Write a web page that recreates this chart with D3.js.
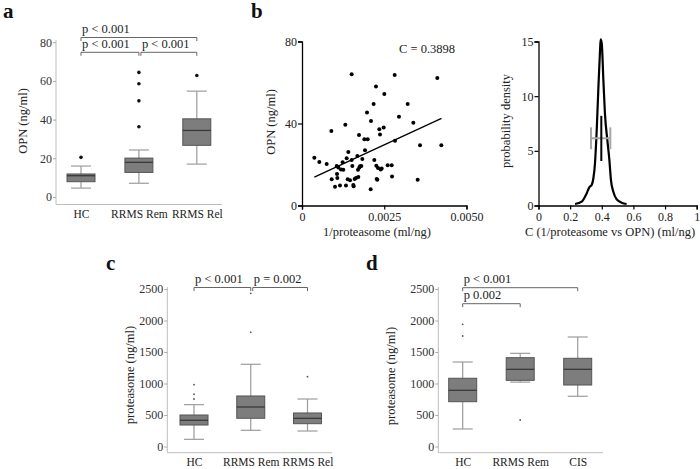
<!DOCTYPE html>
<html><head><meta charset="utf-8">
<script src="https://cdn.jsdelivr.net/npm/d3@7"></script>
<style>body{margin:0;background:#fff}svg{display:block;font-family:"Liberation Serif","Times New Roman",Times,serif}</style>
</head><body><svg id="c" width="700" height="469"></svg>
<script>
// ---------- DATA ----------
// Panel a: OPN (ng/ml)
const groupsA = ["HC", "RRMS Rem", "RRMS Rel"];
const lowA  = [4.6, 7.1, 17.0];
const q1A   = [7.9, 12.7, 26.7];
const medA  = [11.0, 17.9, 34.4];
const q3A   = [11.9, 20.1, 40.4];
const highA = [16.0, 24.3, 54.7];
const outA  = [[20.5], [36.3, 49.7, 58.5, 64.4], [62.8]];
const yTicksA = [0, 20, 40, 60, 80];
const brFromA = [0, 0, 1], brToA = [2, 1, 2], brRowA = [0, 1, 1];
const brTextA = ["p < 0.001", "p < 0.001", "p < 0.001"];

// Panel b (left): scatter OPN vs 1/proteasome
const scatX = [0.000375,0.000527,0.00075,0.000892,0.000902,0.001003,0.001054,0.001064,0.001074,0.001104,
  0.001155,0.001185,0.001236,0.001256,0.001317,0.001337,0.001358,0.001388,0.001408,0.001459,
  0.00151,0.00151,0.00153,0.00156,0.00157,0.0016,0.001641,0.001682,0.001702,0.001712,
  0.001733,0.001743,0.001763,0.001803,0.001834,0.001895,0.001915,0.001976,0.001996,0.002087,
  0.002097,0.002178,0.002198,0.002249,0.002259,0.00227,0.00229,0.00231,0.00235,0.002371,
  0.002391,0.002422,0.002482,0.002502,0.002604,0.002726,0.002736,0.002817,0.002827,0.002948,
  0.003212,0.003384,0.003516,0.003587,0.004113,0.004235];
const scatY = [23.3,21.2,20.2,36.3,12.8,9.2,19.3,15.4,13.4,18.5,
  9.8,17.6,21.1,17.5,39.4,9.8,23.0,12.8,26.1,12.3,
  64.0,22.2,19.3,10.0,9.4,12.9,13.4,24.1,17.5,13.9,
  34.4,18.5,19.1,19.3,22.7,32.3,26.9,45.4,32.3,7.9,
  41.2,49.5,22.2,58.0,19.4,12.9,12.6,18.3,37.2,34.6,
  17.6,18.1,38.1,54.4,19.6,19.6,14.2,63.7,31.6,43.3,
  49.5,40.4,12.6,29.4,62.2,29.4];
const fitX = [0.000375, 0.00424];
const fitY = [13.8, 42.5];
const scatXTicks = [0, 0.0025, 0.005], scatXLabels = ["0", "0.0025", "0.0050"];
const scatYTicks = [0, 40, 80];
const corrText = "C = 0.3898";

// Panel b (right): probability density of C
const densX = [0.231,0.273,0.305,0.321,0.336,0.347,0.357,0.368,0.378,0.389,0.393,0.40,0.41,0.42,0.435,0.448,0.458,0.473,0.494,0.526,0.557];
const densY = [0.14,0.35,1.12,1.66,1.88,2.49,3.86,6.9,10.57,14.2,15.2,14.8,11.5,8.4,6.0,4.16,2.33,1.26,0.57,0.26,0.14];
const ciLo = 0.332, ciHi = 0.454, ciLevel = 6.15, ciCap = 1.0;
const cMean = 0.397, cBarLo = 4.07, cBarHi = 8.2;
const densXTicks = [0, 0.2, 0.4, 0.6, 0.8, 1], densXLabels = ["0", "0.2", "0.4", "0.6", "0.8", "1"];
const densYTicks = [0, 5, 10, 15];

// Panel c: proteasome (ng/ml)
const groupsC = ["HC", "RRMS Rem", "RRMS Rel"];
const lowC  = [114, 257, 246];
const q1C   = [341, 448, 362];
const medC  = [416, 627, 447];
const q3C   = [500, 802, 532];
const highC = [664, 1305, 754];
const outC  = [[754, 829, 981], [1813, 2432], [1108]];
const brFromC = [0, 1], brToC = [1, 2], brRowC = [0, 0];
const brTextC = ["p < 0.001", "p = 0.002"];

// Panel d: proteasome (ng/ml)
const groupsD = ["HC", "RRMS Rem", "CIS"];
const lowD  = [278, 1022, 797];
const q1D   = [711, 1050, 976];
const medD  = [892, 1225, 1225];
const q3D   = [1083, 1410, 1400];
const highD = [1341, 1479, 1738];
const outD  = [[1754, 1940], [421], []];
const brFromD = [0, 0], brToD = [2, 1], brRowD = [0, 1];
const brTextD = ["p < 0.001", "p 0.002"];
const yTicksCD = [0, 500, 1000, 1500, 2000, 2500];

// ---------- DRAWING ----------
const svg = d3.select("#c");
const FONT = '"Liberation Serif","Times New Roman",Times,serif';

function styleAxis(sel, color, tickColor, size) {
  sel.attr("font-family", FONT).attr("font-size", size || 12);
  sel.selectAll("text").attr("fill", color);
  sel.selectAll(".tick line").attr("stroke", tickColor);
}

function boxPanel(o) {
  const g = svg.append("g");
  const y = d3.scaleLinear().domain(o.yDomain).range(o.yRange);
  const x = d3.scalePoint().domain(o.groups).range(o.xRange);
  const axCol = "#bdbdbd";
  g.append("line").attr("x1", o.ax).attr("x2", o.ax).attr("y1", o.axTop).attr("y2", o.ay).attr("stroke", axCol);
  g.append("line").attr("x1", o.ax).attr("x2", o.axRight).attr("y1", o.ay).attr("y2", o.ay).attr("stroke", axCol);
  const ya = g.append("g").attr("transform", `translate(${o.ax},0)`)
    .call(d3.axisLeft(y).tickValues(o.ticks).tickSize(3).tickPadding(1).tickFormat(d3.format("d")));
  ya.select(".domain").remove();
  styleAxis(ya, "#333", "#aaa");
  const xa = g.append("g").attr("transform", `translate(0,${o.ay})`)
    .call(d3.axisBottom(x).tickSize(0).tickPadding(5));
  xa.select(".domain").remove();
  styleAxis(xa, "#222", "#aaa", 11.5);
  // y title
  g.append("text").attr("transform", `translate(${o.titleX},${o.titleY}) rotate(-90)`)
    .attr("text-anchor", "middle").attr("font-family", FONT).attr("font-size", 12.5).attr("fill", "#222").text(o.title);
  const bw = 28, cw = 20;
  o.groups.forEach((gr, i) => {
    const cx = x(gr);
    const wc = "#9c9c9c";
    g.append("line").attr("x1", cx).attr("x2", cx).attr("y1", y(o.low[i])).attr("y2", y(o.q1[i])).attr("stroke", wc).attr("stroke-width", 1.2);
    g.append("line").attr("x1", cx).attr("x2", cx).attr("y1", y(o.q3[i])).attr("y2", y(o.high[i])).attr("stroke", wc).attr("stroke-width", 1.2);
    g.append("line").attr("x1", cx - cw / 2).attr("x2", cx + cw / 2).attr("y1", y(o.low[i])).attr("y2", y(o.low[i])).attr("stroke", wc).attr("stroke-width", 1.2);
    g.append("line").attr("x1", cx - cw / 2).attr("x2", cx + cw / 2).attr("y1", y(o.high[i])).attr("y2", y(o.high[i])).attr("stroke", wc).attr("stroke-width", 1.2);
    g.append("rect").attr("x", cx - bw / 2).attr("width", bw).attr("y", y(o.q3[i])).attr("height", y(o.q1[i]) - y(o.q3[i]))
      .attr("fill", "#7d7d7d").attr("stroke", "#555").attr("stroke-width", 1);
    g.append("line").attr("x1", cx - bw / 2).attr("x2", cx + bw / 2).attr("y1", y(o.med[i])).attr("y2", y(o.med[i])).attr("stroke", "#3a3a3a").attr("stroke-width", 1.3);
    g.selectAll(null).data(o.out[i]).enter().append("circle")
      .attr("cx", cx).attr("cy", d => y(d)).attr("r", o.outR).attr("fill", o.outCol);
  });
  // brackets
  o.brFrom.forEach((f, k) => {
    const x1 = x(o.groups[f]), x2 = x(o.groups[o.brTo[k]]);
    const by = o.brRows[o.brRow[k]];
    const off1 = k > 0 && o.brFrom[k] > 0 ? 2 : 0;
    g.append("path").attr("d", `M${x1 + off1},${by + 3.5}V${by}H${x2}V${by + 3.5}`)
      .attr("fill", "none").attr("stroke", "#666").attr("stroke-width", 1);
    g.append("text").attr("x", x1 + 1 + off1).attr("y", by - 4.3).attr("font-family", FONT).attr("font-size", 12.5)
      .attr("fill", "#222").text(o.brText[k]);
  });
}

boxPanel({groups: groupsA, low: lowA, q1: q1A, med: medA, q3: q3A, high: highA, out: outA,
  yDomain: [0, 80], yRange: [197, 42.2], xRange: [81, 196.8], ticks: yTicksA,
  ax: 56, ay: 204.5, axTop: 40, axRight: 222, title: "OPN (ng/ml)", titleX: 27, titleY: 121,
  outR: 1.8, outCol: "#111",
  brFrom: brFromA, brTo: brToA, brRow: brRowA, brText: brTextA, brRows: [37.5, 52.3]});

boxPanel({groups: groupsC, low: lowC, q1: q1C, med: medC, q3: q3C, high: highC, out: outC,
  yDomain: [0, 2500], yRange: [446.5, 289], xRange: [194, 307.5], ticks: yTicksCD,
  ax: 167.3, ay: 452.7, axTop: 287, axRight: 332, title: "proteasome (ng/ml)", titleX: 133.5, titleY: 375,
  outR: 0.9, outCol: "#555",
  brFrom: brFromC, brTo: brToC, brRow: brRowC, brText: brTextC, brRows: [287.5]});

boxPanel({groups: groupsD, low: lowD, q1: q1D, med: medD, q3: q3D, high: highD, out: outD,
  yDomain: [0, 2500], yRange: [446.5, 289], xRange: [462.7, 577.7], ticks: yTicksCD,
  ax: 438.3, ay: 452.7, axTop: 287, axRight: 603, title: "proteasome (ng/ml)", titleX: 395, titleY: 376,
  outR: 0.9, outCol: "#555",
  brFrom: brFromD, brTo: brToD, brRow: brRowD, brText: brTextD, brRows: [287.7, 303.7]});

// ---- panel b scatter ----
{
  const g = svg.append("g");
  const x = d3.scaleLinear().domain([0, 0.005]).range([302, 466.5]);
  const y = d3.scaleLinear().domain([0, 80]).range([205.5, 41.5]);
  const xa = g.append("g").attr("transform", "translate(0,205.5)")
    .call(d3.axisBottom(x).tickValues(scatXTicks).tickFormat((d, i) => scatXLabels[i]).tickSize(4).tickPadding(2.5));
  const ya = g.append("g").attr("transform", "translate(302,0)")
    .call(d3.axisLeft(y).tickValues(scatYTicks).tickSize(4).tickPadding(1));
  [xa, ya].forEach(a => { styleAxis(a, "#222", "#000"); a.select(".domain").attr("stroke", "#000").attr("stroke-width", 1.3); a.selectAll(".tick line").attr("stroke-width", 1.2); });
  g.selectAll(null).data(scatX).enter().append("circle")
    .attr("cx", d => x(d)).attr("cy", (d, i) => y(scatY[i])).attr("r", 2).attr("fill", "#000");
  g.append("path").datum(fitX.map((d, i) => [d, fitY[i]]))
    .attr("d", d3.line().x(d => x(d[0])).y(d => y(d[1]))).attr("stroke", "#000").attr("stroke-width", 1.3).attr("fill", "none");
  g.append("text").attr("x", 399).attr("y", 53).attr("font-family", FONT).attr("font-size", 12.5).attr("fill", "#222").text(corrText);
  g.append("text").attr("x", 377).attr("y", 236).attr("text-anchor", "middle").attr("font-family", FONT).attr("font-size", 12.5).attr("fill", "#222").text("1/proteasome (ml/ng)");
  g.append("text").attr("transform", "translate(275,122) rotate(-90)").attr("text-anchor", "middle").attr("font-family", FONT).attr("font-size", 12.5).attr("fill", "#222").text("OPN (ng/ml)");
}

// ---- panel b density ----
{
  const g = svg.append("g");
  const x = d3.scaleLinear().domain([0, 1]).range([538.5, 696.7]);
  const y = d3.scaleLinear().domain([0, 15]).range([205.5, 41.5]);
  const xa = g.append("g").attr("transform", "translate(0,205.5)")
    .call(d3.axisBottom(x).tickValues(densXTicks).tickFormat((d, i) => densXLabels[i]).tickSize(4).tickPadding(2.5));
  const ya = g.append("g").attr("transform", "translate(538.5,0)")
    .call(d3.axisLeft(y).tickValues(densYTicks).tickSize(4).tickPadding(1));
  [xa, ya].forEach(a => { styleAxis(a, "#222", "#000"); a.select(".domain").attr("stroke", "#000").attr("stroke-width", 1.3); a.selectAll(".tick line").attr("stroke-width", 1.2); });
  g.append("path").datum(densX.map((d, i) => [d, densY[i]]))
    .attr("d", d3.line().x(d => x(d[0])).y(d => y(d[1])).curve(d3.curveMonotoneX))
    .attr("fill", "none").attr("stroke", "#000").attr("stroke-width", 2.2).attr("stroke-linejoin", "round");
  const gc = "#a8a8a8";
  g.append("line").attr("x1", x(ciLo)).attr("x2", x(ciHi)).attr("y1", y(ciLevel)).attr("y2", y(ciLevel)).attr("stroke", gc).attr("stroke-width", 2);
  [ciLo, ciHi].forEach(v => g.append("line").attr("x1", x(v)).attr("x2", x(v)).attr("y1", y(ciLevel - ciCap)).attr("y2", y(ciLevel + ciCap)).attr("stroke", gc).attr("stroke-width", 2));
  g.append("line").attr("x1", x(cMean)).attr("x2", x(cMean)).attr("y1", y(cBarLo)).attr("y2", y(cBarHi)).attr("stroke", "#000").attr("stroke-width", 2);
  g.append("text").attr("x", 610).attr("y", 236).attr("text-anchor", "middle").attr("font-family", FONT).attr("font-size", 12.5).attr("fill", "#222").text("C (1/proteasome vs OPN) (ml/ng)");
  g.append("text").attr("transform", "translate(510,121) rotate(-90)").attr("text-anchor", "middle").attr("font-family", FONT).attr("font-size", 12.5).attr("fill", "#222").text("probability density");
}

// panel letters
[["a", 3, 17.5], ["b", 251, 17.5], ["c", 106, 269.5], ["d", 366, 269.5]].forEach(([t, px, py]) =>
  svg.append("text").attr("x", px).attr("y", py).attr("font-family", FONT).attr("font-weight", "bold").attr("font-size", 21).attr("fill", "#111").text(t));
</script></body></html>
